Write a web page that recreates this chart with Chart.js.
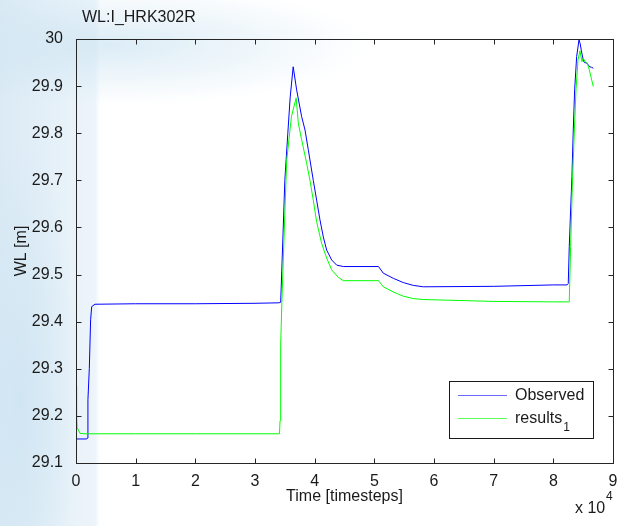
<!DOCTYPE html>
<html>
<head>
<meta charset="utf-8">
<title>WL:I_HRK302R</title>
<script src="https://cdn.jsdelivr.net/npm/chart.js@4.4.1/dist/chart.umd.min.js"></script>
<style>
  html, body { margin: 0; padding: 0; }
  body {
    width: 629px; height: 526px; overflow: hidden;
    background:
      radial-gradient(ellipse 260px 60px at 110px 45px, rgba(205,228,242,0.7), rgba(255,255,255,0) 100%),
      radial-gradient(ellipse 60px 260px at 20px 400px, rgba(205,228,242,0.8), rgba(255,255,255,0) 100%),
      linear-gradient(to right, rgba(215,232,244,0.9) 0px, rgba(225,238,247,0.6) 95px, rgba(255,255,255,0) 100px),
      #ffffff;
  }
  #wrap { position: relative; width: 629px; height: 526px; }
</style>
</head>
<body>
<div id="wrap"><canvas id="wlChart" width="629" height="526"></canvas></div>
<script>
// x in timesteps, y in metres
const observedX = [0, 1800, 1900, 2000, 2230, 2450, 2630, 3180, 10000, 20000, 30000, 34000,
  34300, 34600, 35000, 35500, 35900, 36400, 36980, 37820, 38380, 38930, 39770, 40330, 40890,
  41450, 42010, 42850, 43690, 44800, 50700, 51500, 53180, 54850, 56530, 58200, 70000, 80000,
  82300, 82500, 82670, 82900, 83120, 83340, 83570, 83910, 84300, 84500, 84700, 85000, 85200,
  85600, 86100, 86400, 86700];
const observedY = [29.151, 29.151, 29.153, 29.234, 29.30, 29.404, 29.432, 29.437, 29.438, 29.438, 29.439, 29.44,
  29.441, 29.55, 29.70, 29.80, 29.877, 29.941, 29.892, 29.835, 29.807, 29.765, 29.70, 29.658, 29.616,
  29.58, 29.552, 29.531, 29.52, 29.517, 29.517, 29.503, 29.492, 29.483, 29.477, 29.474, 29.475, 29.478,
  29.478, 29.481, 29.559, 29.637, 29.708, 29.807, 29.892, 29.963, 29.998, 29.99, 29.975, 29.956, 29.95,
  29.949, 29.941, 29.94, 29.938];

const resultsX = [0, 100, 200, 400, 670, 1500, 10000, 20000, 30000, 34100, 34200, 34300, 34500,
  35300, 36100, 36900, 37260, 37820, 38660, 39210, 39770, 40330, 41170, 42010, 42850, 43970,
  44800, 50700, 51500, 53180, 54850, 56530, 58200, 70000, 80000, 82500, 82670, 82900, 83180,
  83460, 83800, 84130, 84460, 84800, 85000, 85300, 85600, 85900, 86300, 86700];
const resultsY = [29.263, 29.20, 29.175, 29.17, 29.163, 29.162, 29.162, 29.162, 29.162, 29.162, 29.19, 29.35, 29.44,
  29.74, 29.835, 29.875, 29.821, 29.786, 29.736, 29.70, 29.658, 29.612, 29.566, 29.535, 29.51, 29.494,
  29.487, 29.487, 29.474, 29.463, 29.454, 29.449, 29.447, 29.443, 29.442, 29.442, 29.442, 29.559, 29.687,
  29.785, 29.892, 29.955, 29.975, 29.952, 29.96, 29.952, 29.95, 29.941, 29.92, 29.899];

const seriesNames = ['Observed', 'results'];
const xTicks = [0, 10000, 20000, 30000, 40000, 50000, 60000, 70000, 80000, 90000];
const yTicks = [29.1, 29.2, 29.3, 29.4, 29.5, 29.6, 29.7, 29.8, 29.9, 30];

const toPoints = (xs, ys) => xs.map((x, i) => ({ x: x, y: ys[i] }));

const FAMILY = '"Liberation Sans", Arial, sans-serif';
const FONT = '16px ' + FAMILY;

// MATLAB style frame, inward ticks, labels and legend
const matlabFrame = {
  id: 'matlabFrame',
  afterDraw(chart) {
    const ctx = chart.ctx;
    const a = chart.chartArea;
    const xs = chart.scales.x, ys = chart.scales.y;
    const L = Math.round(a.left) + 0.5, R = Math.round(a.right) + 0.5;
    const T = Math.round(a.top) + 0.5, B = Math.round(a.bottom) + 0.5;
    ctx.save();
    ctx.strokeStyle = '#262626';
    ctx.lineWidth = 1;
    ctx.strokeRect(L, T, R - L, B - T);
    ctx.beginPath();
    xTicks.forEach(v => {
      const px = Math.round(xs.getPixelForValue(v)) + 0.5;
      ctx.moveTo(px, B); ctx.lineTo(px, B - 5);
      ctx.moveTo(px, T); ctx.lineTo(px, T + 5);
    });
    yTicks.forEach(v => {
      const py = Math.round(ys.getPixelForValue(v)) + 0.5;
      ctx.moveTo(L, py); ctx.lineTo(L + 5, py);
      ctx.moveTo(R, py); ctx.lineTo(R - 5, py);
    });
    ctx.stroke();

    ctx.fillStyle = '#1a1a1a';
    ctx.font = FONT;
    // title
    ctx.textAlign = 'left';
    ctx.textBaseline = 'middle';
    ctx.fillText('WL:I_HRK302R', 82, 18);
    // x label
    ctx.textAlign = 'center';
    ctx.fillText('Time [timesteps]', (a.left + a.right) / 2, 497);
    // exponent
    ctx.textAlign = 'left';
    ctx.fillText('x 10', 575, 509);
    ctx.font = '12px ' + FAMILY;
    ctx.fillText('4', 606, 497);
    // y label
    ctx.font = FONT;
    ctx.save();
    ctx.translate(22, (a.top + a.bottom) / 2);
    ctx.rotate(-Math.PI / 2);
    ctx.textAlign = 'center';
    ctx.fillText('WL [m]', 0, 0);
    ctx.restore();

    // legend
    const lx = 449.5, ly = 381.5, lw = 144, lh = 57;
    ctx.fillStyle = '#ffffff';
    ctx.fillRect(lx, ly, lw, lh);
    ctx.strokeStyle = '#1a1a1a';
    ctx.strokeRect(lx, ly, lw, lh);
    const colors = ['#6a6aff', '#5cff5c'];
    const rowY = [395.5, 418.5];
    seriesNames.forEach((name, i) => {
      ctx.strokeStyle = colors[i];
      ctx.beginPath();
      ctx.moveTo(458, rowY[i]); ctx.lineTo(507, rowY[i]);
      ctx.stroke();
      ctx.fillStyle = '#1a1a1a';
      ctx.font = FONT;
      ctx.textAlign = 'left';
      ctx.textBaseline = 'middle';
      ctx.fillText(name, 515, rowY[i]);
    });
    const w = ctx.measureText(seriesNames[1]).width;
    ctx.font = '12px ' + FAMILY;
    ctx.fillText('1', 515 + w + 1, rowY[1] + 9);
    ctx.restore();
  }
};

new Chart(document.getElementById('wlChart'), {
  type: 'line',
  data: {
    datasets: [
      {
        label: seriesNames[0],
        data: toPoints(observedX, observedY),
        borderColor: '#0000ff',
        borderWidth: 1,
        pointRadius: 0,
        tension: 0,
        order: 1
      },
      {
        label: seriesNames[1],
        data: toPoints(resultsX, resultsY),
        borderColor: '#00ff00',
        borderWidth: 1,
        pointRadius: 0,
        tension: 0,
        order: 0
      }
    ]
  },
  options: {
    responsive: false,
    animation: false,
    events: [],
    layout: { padding: { left: 0, top: 39, right: 16, bottom: 0 } },
    plugins: { legend: { display: false }, title: { display: false }, tooltip: { enabled: false } },
    scales: {
      x: {
        type: 'linear',
        min: 0, max: 90000,
        afterFit(scale) { scale.height = 63; },
        afterBuildTicks(scale) { scale.ticks = xTicks.map(v => ({ value: v })); },
        grid: { display: false },
        border: { display: false },
        ticks: {
          font: { family: FAMILY, size: 16 },
          color: '#1a1a1a',
          padding: 1,
          maxRotation: 0,
          callback: v => String(v / 10000)
        }
      },
      y: {
        type: 'linear',
        min: 29.1, max: 30,
        afterFit(scale) { scale.width = 76; },
        afterBuildTicks(scale) { scale.ticks = yTicks.map(v => ({ value: v })); },
        grid: { display: false },
        border: { display: false },
        ticks: {
          font: { family: FAMILY, size: 16 },
          color: '#1a1a1a',
          padding: 5,
          callback: v => String(Number(v.toFixed(1)))
        }
      }
    }
  },
  plugins: [matlabFrame]
});
</script>
</body>
</html>
